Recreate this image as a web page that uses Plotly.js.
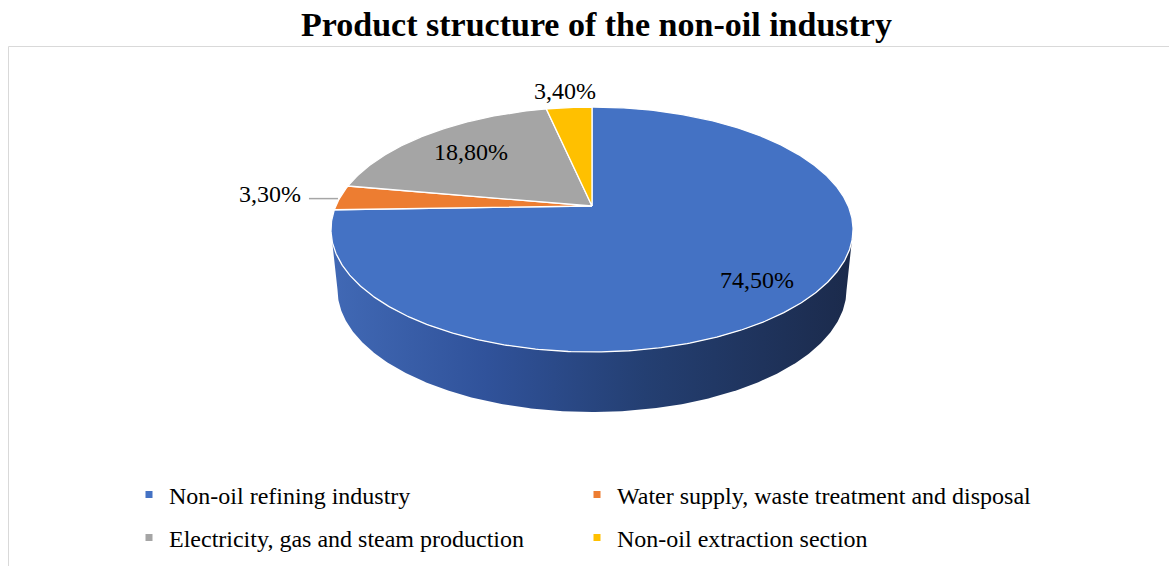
<!DOCTYPE html>
<html><head><meta charset="utf-8">
<script src="https://cdn.plot.ly/plotly-3.0.1.min.js"></script>
<style>html,body{margin:0;padding:0;background:#fff}#chart{width:1169px;height:566px}</style>
</head><body><div id="chart"></div>
<script>
const categories = ["Non-oil refining industry", "Water supply, waste treatment and disposal", "Electricity, gas and steam production", "Non-oil extraction section"];
const values = [74.5, 3.3, 18.8, 3.4];
const valueLabels = ["74,50%", "3,30%", "18,80%", "3,40%"];
const colors = ["#4472c4", "#ed7d31", "#a5a5a5", "#ffc000"];

const W = 1169, H = 566;
// perspective projection of the pie's top face (style constants)
const CX = 592, CY = 206, A = 256.2, B = 118, K = 0.1918, DEPTH = 60, SHRINK = 0.975;
function proj(theta, r, bottom) {
  const t = theta * Math.PI / 180;
  const u = r * Math.sin(t), v = r * Math.cos(t);
  const w = 1 + K * v;
  const a = bottom ? A * SHRINK : A;
  return [CX + a * u / w, CY - B * v / w + (bottom ? DEPTH : 0)];
}

const total = values.reduce((s, v) => s + v, 0);
const starts = [], ends = [];
let acc = 0;
values.forEach(v => { starts.push(acc / total * 360); acc += v; ends.push(acc / total * 360); });

const traces = [];
// side wall (front part of the first slice)
const thR = Math.acos(-K) * 180 / Math.PI, thL = 360 - thR;
{
  const xs = [], ys = [];
  for (let t = thR; t <= thL + 1e-9; t += 0.5) { const p = proj(t, 1, false); xs.push(p[0]); ys.push(p[1]); }
  for (let t = thL; t >= thR - 1e-9; t -= 0.5) { const p = proj(t, 1, true); xs.push(p[0]); ys.push(p[1]); }
  xs.push(xs[0]); ys.push(ys[0]);
  traces.push({
    type: 'scatter', mode: 'lines', x: xs, y: ys, fill: 'toself',
    fillgradient: { type: 'horizontal', colorscale: [[0, '#4169b5'], [0.3, '#30529a'], [0.6, '#243f72'], [1, '#1b2a4b']] },
    line: { width: 0 }, hoverinfo: 'skip', showlegend: false
  });
}
// top-face slices
values.forEach((v, i) => {
  const xs = [CX], ys = [CY];
  const n = Math.max(2, Math.ceil((ends[i] - starts[i]) / 0.5));
  for (let j = 0; j <= n; j++) {
    const t = starts[i] + (ends[i] - starts[i]) * j / n;
    const p = proj(t, 1, false); xs.push(p[0]); ys.push(p[1]);
  }
  xs.push(CX); ys.push(CY);
  traces.push({
    type: 'scatter', mode: 'lines', x: xs, y: ys, fill: 'toself', fillcolor: colors[i],
    line: { color: '#ffffff', width: 1.3 }, name: categories[i],
    text: valueLabels[i], hoverinfo: 'text+name', showlegend: false
  });
});

// data labels
const labelR = [0.8, null, 0.72, 1.2];
const annotations = [];
values.forEach((v, i) => {
  const mid = (starts[i] + ends[i]) / 2;
  if (labelR[i] !== null) {
    const p = proj(mid, labelR[i], false);
    annotations.push({ x: p[0], y: p[1], xref: 'x', yref: 'y', text: valueLabels[i], showarrow: false,
      font: { family: 'Liberation Serif', size: 24, color: '#000' }, xanchor: 'center', yanchor: 'middle' });
  } else {
    const p = proj(mid, 1, false);
    const x2 = p[0] - 31;
    traces.push({ type: 'scatter', mode: 'lines', x: [p[0] - 2, x2], y: [p[1] + 1, p[1] + 1],
      line: { color: '#a6a6a6', width: 1.5 }, hoverinfo: 'skip', showlegend: false });
    annotations.push({ x: x2 - 6, y: p[1] - 4, xref: 'x', yref: 'y', text: valueLabels[i], showarrow: false,
      font: { family: 'Liberation Serif', size: 24, color: '#000' }, xanchor: 'right', yanchor: 'middle' });
  }
});

// legend entries: one legend per entry, arranged in a 2x2 grid
const legendIds = ['legend', 'legend2', 'legend3', 'legend4'];
categories.forEach((c, i) => {
  traces.push({ type: 'scatter', mode: 'markers', x: [null], y: [null], name: c,
    marker: { symbol: 'square', size: 7, color: colors[i] },
    legend: legendIds[i], showlegend: true, hoverinfo: 'skip' });
});

const legendBase = { orientation: 'v', xanchor: 'left', yanchor: 'middle',
  font: { family: 'Liberation Serif', size: 24, color: '#000' }, bgcolor: 'rgba(0,0,0,0)' };
const colX = [129, 577], rowY = [495, 538];

const layout = {
  width: W, height: H,
  margin: { l: 0, r: 0, t: 0, b: 0 },
  paper_bgcolor: '#fff', plot_bgcolor: '#fff',
  title: { text: '<b>Product structure of the non-oil industry</b>', font: { family: 'Liberation Serif', size: 34, color: '#000' },
    x: 596.5 / W, xanchor: 'center', y: 1 - 24 / H, yanchor: 'middle', yref: 'container' },
  xaxis: { range: [0, W], visible: false, fixedrange: true },
  yaxis: { range: [H, 0], visible: false, fixedrange: true },
  showlegend: true,
  annotations: annotations,
  shapes: [{ type: 'rect', xref: 'paper', yref: 'paper', x0: 8.5 / W, x1: 1.02, y0: -0.02, y1: 1 - 46.5 / H,
    line: { color: '#d9d9d9', width: 1 }, fillcolor: 'rgba(0,0,0,0)', layer: 'below' }]
};
legendIds.forEach((id, i) => {
  layout[id] = Object.assign({}, legendBase, { x: colX[i % 2] / W, y: 1 - rowY[Math.floor(i / 2)] / H });
});

Plotly.newPlot('chart', traces, layout, { staticPlot: true, displayModeBar: false });
</script>
</body></html>
